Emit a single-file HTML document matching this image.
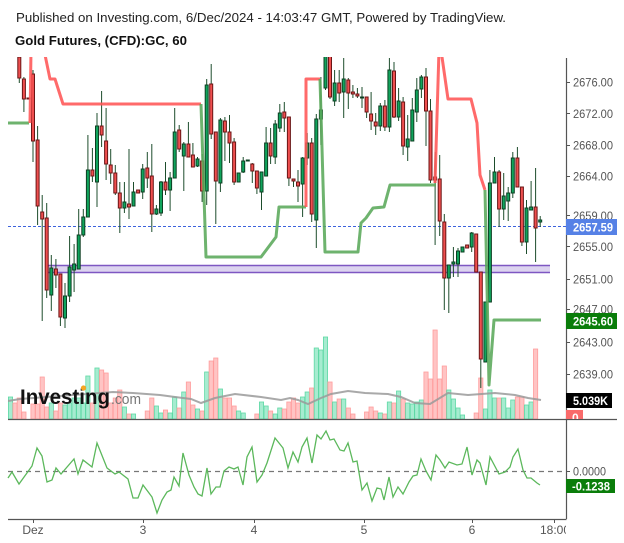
<!DOCTYPE html>
<html><head><meta charset="utf-8"><style>
html,body{margin:0;padding:0;background:#fff;}
svg{display:block;font-family:"Liberation Sans",Arial,sans-serif;}
.w{stroke:#1d4d2c;stroke-width:1}
.g{fill:#10a45c;stroke:#0d3f22;stroke-width:1}
.r{fill:#ef4f4f;stroke:#6a1515;stroke-width:1}
.vg{fill:#a6ecd0;stroke:#5fd9a5;stroke-width:.8}
.vr{fill:#ffc4c4;stroke:#ff9d9d;stroke-width:.8}
.ax{fill:#555;font-size:12px}
</style></head><body>
<svg width="624" height="543" viewBox="0 0 624 543" xmlns="http://www.w3.org/2000/svg">
<defs>
<clipPath id="pane"><rect x="8" y="57" width="558" height="362"/></clipPath>
<clipPath id="xax"><rect x="0" y="519" width="566" height="24"/></clipPath>
<clipPath id="zb"><rect x="566" y="410" width="17" height="9"/></clipPath>
</defs>
<text x="16" y="22" font-size="13" fill="#222" textLength="490" lengthAdjust="spacingAndGlyphs">Published on Investing.com, 6/Dec/2024 - 14:03:47 GMT, Powered by TradingView.</text>
<text x="15" y="45" font-size="13" font-weight="bold" fill="#111" textLength="172" lengthAdjust="spacingAndGlyphs">Gold Futures, (CFD):GC, 60</text>

<g clip-path="url(#pane)">
<!-- volume -->
<g>
<rect class="vg" x="8.4" y="397" width="4.2" height="22"/><rect class="vr" x="12.9" y="403" width="4.2" height="16"/>
<rect class="vr" x="17.2" y="398" width="4.2" height="21"/><rect class="vr" x="21.8" y="412" width="4.2" height="7"/>
<rect class="vr" x="30.9" y="404" width="4.2" height="15"/><rect class="vr" x="35.5" y="404" width="4.2" height="15"/>
<rect class="vr" x="40.1" y="377" width="4.2" height="42"/><rect class="vr" x="44.6" y="407" width="4.2" height="12"/>
<rect class="vg" x="49.2" y="403" width="4.2" height="16"/><rect class="vr" x="53.8" y="411" width="4.2" height="8"/>
<rect class="vr" x="58.3" y="403" width="4.2" height="16"/><rect class="vg" x="62.9" y="405" width="4.2" height="14"/>
<rect class="vg" x="67.5" y="403" width="4.2" height="16"/><rect class="vg" x="72.0" y="398" width="4.2" height="21"/>
<rect class="vg" x="76.6" y="398" width="4.2" height="21"/><rect class="vg" x="81.2" y="403" width="4.2" height="16"/>
<rect class="vg" x="85.8" y="376" width="4.2" height="43"/><rect class="vr" x="90.3" y="403" width="4.2" height="16"/>
<rect class="vg" x="94.9" y="368" width="4.2" height="51"/><rect class="vr" x="99.5" y="370" width="4.2" height="49"/>
<rect class="vr" x="104.0" y="373" width="4.2" height="46"/><rect class="vr" x="108.6" y="403" width="4.2" height="16"/>
<rect class="vr" x="113.2" y="398" width="4.2" height="21"/><rect class="vr" x="117.7" y="390" width="4.2" height="29"/>
<rect class="vg" x="122.3" y="407" width="4.2" height="12"/><rect class="vr" x="126.9" y="414" width="4.2" height="5"/>
<rect class="vg" x="131.4" y="414" width="4.2" height="5"/>
<rect class="vr" x="145.2" y="411" width="4.2" height="8"/><rect class="vr" x="149.7" y="398" width="4.2" height="21"/>
<rect class="vg" x="154.3" y="406" width="4.2" height="13"/><rect class="vg" x="158.9" y="413" width="4.2" height="6"/>
<rect class="vr" x="163.4" y="410" width="4.2" height="9"/><rect class="vg" x="168.0" y="413" width="4.2" height="6"/>
<rect class="vg" x="172.6" y="397" width="4.2" height="22"/><rect class="vr" x="177.1" y="408" width="4.2" height="11"/>
<rect class="vg" x="181.7" y="392" width="4.2" height="27"/><rect class="vr" x="186.3" y="382" width="4.2" height="37"/>
<rect class="vr" x="190.8" y="405" width="4.2" height="14"/><rect class="vg" x="195.4" y="409" width="4.2" height="10"/>
<rect class="vr" x="200.0" y="411" width="4.2" height="8"/><rect class="vg" x="204.6" y="372" width="4.2" height="47"/>
<rect class="vr" x="209.1" y="361" width="4.2" height="58"/><rect class="vr" x="213.7" y="358" width="4.2" height="61"/>
<rect class="vg" x="218.3" y="389" width="4.2" height="30"/><rect class="vr" x="222.8" y="398" width="4.2" height="21"/>
<rect class="vr" x="227.4" y="398" width="4.2" height="21"/><rect class="vr" x="232.0" y="406" width="4.2" height="13"/>
<rect class="vg" x="236.5" y="411" width="4.2" height="8"/><rect class="vg" x="241.1" y="413" width="4.2" height="6"/>
<rect class="vr" x="254.8" y="414" width="4.2" height="5"/><rect class="vg" x="259.4" y="402" width="4.2" height="17"/>
<rect class="vg" x="264.0" y="406" width="4.2" height="13"/><rect class="vr" x="268.5" y="411" width="4.2" height="8"/>
<rect class="vg" x="273.1" y="414" width="4.2" height="5"/><rect class="vg" x="277.7" y="408" width="4.2" height="11"/>
<rect class="vr" x="282.2" y="409" width="4.2" height="10"/><rect class="vr" x="286.8" y="402" width="4.2" height="17"/>
<rect class="vr" x="291.4" y="398" width="4.2" height="21"/><rect class="vr" x="295.9" y="403" width="4.2" height="16"/>
<rect class="vg" x="300.5" y="397" width="4.2" height="22"/><rect class="vg" x="305.1" y="392" width="4.2" height="27"/>
<rect class="vr" x="309.6" y="388" width="4.2" height="31"/><rect class="vg" x="314.2" y="348" width="4.2" height="71"/>
<rect class="vg" x="318.8" y="350" width="4.2" height="69"/><rect class="vg" x="323.4" y="337" width="4.2" height="82"/>
<rect class="vr" x="327.9" y="382" width="4.2" height="37"/><rect class="vg" x="332.5" y="402" width="4.2" height="17"/>
<rect class="vr" x="337.1" y="399" width="4.2" height="20"/><rect class="vg" x="341.6" y="399" width="4.2" height="20"/>
<rect class="vr" x="346.2" y="408" width="4.2" height="11"/><rect class="vr" x="350.8" y="414" width="4.2" height="5"/>
<rect class="vr" x="364.5" y="412" width="4.2" height="7"/><rect class="vr" x="369.0" y="407" width="4.2" height="12"/>
<rect class="vr" x="373.6" y="411" width="4.2" height="8"/><rect class="vg" x="378.2" y="413" width="4.2" height="6"/>
<rect class="vr" x="382.8" y="414" width="4.2" height="5"/><rect class="vg" x="387.3" y="402" width="4.2" height="17"/>
<rect class="vr" x="391.9" y="403" width="4.2" height="16"/><rect class="vg" x="396.5" y="391" width="4.2" height="28"/>
<rect class="vr" x="401.0" y="399" width="4.2" height="20"/><rect class="vg" x="405.6" y="403" width="4.2" height="16"/>
<rect class="vg" x="410.2" y="404" width="4.2" height="15"/><rect class="vg" x="414.7" y="402" width="4.2" height="17"/>
<rect class="vg" x="419.3" y="400" width="4.2" height="19"/><rect class="vr" x="423.9" y="372" width="4.2" height="47"/>
<rect class="vr" x="428.4" y="379" width="4.2" height="40"/><rect class="vr" x="433.0" y="330" width="4.2" height="89"/>
<rect class="vr" x="437.6" y="379" width="4.2" height="40"/><rect class="vr" x="442.2" y="366" width="4.2" height="53"/>
<rect class="vg" x="446.7" y="390" width="4.2" height="29"/><rect class="vg" x="451.3" y="399" width="4.2" height="20"/>
<rect class="vg" x="455.9" y="408" width="4.2" height="11"/><rect class="vg" x="460.4" y="415" width="4.2" height="4"/>
<rect class="vr" x="474.1" y="413" width="4.2" height="6"/><rect class="vr" x="478.7" y="378" width="4.2" height="41"/>
<rect class="vg" x="483.3" y="409" width="4.2" height="10"/><rect class="vg" x="487.8" y="390" width="4.2" height="29"/>
<rect class="vg" x="492.4" y="398" width="4.2" height="21"/><rect class="vr" x="497.0" y="398" width="4.2" height="21"/>
<rect class="vg" x="501.6" y="398" width="4.2" height="21"/><rect class="vg" x="506.1" y="408" width="4.2" height="11"/>
<rect class="vg" x="510.7" y="400" width="4.2" height="19"/><rect class="vr" x="515.3" y="397" width="4.2" height="22"/>
<rect class="vr" x="519.8" y="397" width="4.2" height="22"/><rect class="vg" x="524.4" y="405" width="4.2" height="14"/>
<rect class="vg" x="529.0" y="402" width="4.2" height="17"/><rect class="vr" x="533.5" y="349" width="4.2" height="70"/>
</g>
<polyline fill="none" stroke="#9a9a9a" stroke-width="2" stroke-opacity=".85" points="8,401 20,399 60,396 113,392 133,393 160,395 175,397 191,399 201,403 215,398 235,394 261,397 281,400 290,398 298,400 308,404 321,398 331,394 348,391 365,393 388,394 401,397 415,403 430,404 448,393 468,395 495,393 515,395 528,398 541,400"/>

<!-- purple band -->
<rect x="47" y="265.5" width="503" height="7" fill="#dcd3ef"/>
<line x1="47" y1="265.5" x2="550" y2="265.5" stroke="#7e57c2" stroke-width="1.5"/>
<line x1="47" y1="272.5" x2="550" y2="272.5" stroke="#7e57c2" stroke-width="1.5"/>
<!-- blue dashed -->
<line x1="8" y1="226.5" x2="566" y2="226.5" stroke="#3d63dd" stroke-width="1" stroke-dasharray="3,2"/>

<!-- candles -->
<g>
<line class="w" x1="19.3" y1="57" x2="19.3" y2="83"/><rect class="r" x="17.8" y="57" width="3" height="21"/>
<line class="w" x1="23.9" y1="77" x2="23.9" y2="112"/><rect class="r" x="22.4" y="79" width="3" height="20"/>
<line class="w" x1="28.4" y1="98" x2="28.4" y2="99"/><rect class="r" x="26.9" y="98" width="3" height="1"/>
<line class="w" x1="33.0" y1="70" x2="33.0" y2="162"/><rect class="r" x="31.5" y="74" width="3" height="67"/>
<line class="w" x1="37.6" y1="126" x2="37.6" y2="225"/><rect class="r" x="36.1" y="140" width="3" height="66"/>
<line class="w" x1="42.2" y1="195" x2="42.2" y2="321"/><rect class="r" x="40.7" y="212" width="3" height="7"/>
<line class="w" x1="46.7" y1="203" x2="46.7" y2="298"/><rect class="r" x="45.2" y="218" width="3" height="72"/>
<line class="w" x1="51.3" y1="255" x2="51.3" y2="311"/><rect class="g" x="49.8" y="268" width="3" height="27"/>
<line class="w" x1="55.9" y1="259" x2="55.9" y2="288"/><rect class="r" x="54.4" y="269" width="3" height="6"/>
<line class="w" x1="60.4" y1="274" x2="60.4" y2="326"/><rect class="r" x="58.9" y="274" width="3" height="43"/>
<line class="w" x1="65.0" y1="283" x2="65.0" y2="328"/><rect class="g" x="63.5" y="296" width="3" height="22"/>
<line class="w" x1="69.6" y1="236" x2="69.6" y2="302"/><rect class="g" x="68.1" y="267" width="3" height="29"/>
<line class="w" x1="74.1" y1="244" x2="74.1" y2="292"/><rect class="g" x="72.6" y="264" width="3" height="6"/>
<line class="w" x1="78.7" y1="209" x2="78.7" y2="269"/><rect class="g" x="77.2" y="235" width="3" height="34"/>
<line class="w" x1="83.3" y1="209" x2="83.3" y2="237"/><rect class="g" x="81.8" y="217" width="3" height="18"/>
<line class="w" x1="87.9" y1="135" x2="87.9" y2="217"/><rect class="g" x="86.4" y="170" width="3" height="47"/>
<line class="w" x1="92.4" y1="148" x2="92.4" y2="182"/><rect class="r" x="90.9" y="170" width="3" height="6"/>
<line class="w" x1="97.0" y1="113" x2="97.0" y2="207"/><rect class="g" x="95.5" y="126" width="3" height="56"/>
<line class="w" x1="101.6" y1="91" x2="101.6" y2="147"/><rect class="r" x="100.1" y="126" width="3" height="9"/>
<line class="w" x1="106.1" y1="108" x2="106.1" y2="180"/><rect class="r" x="104.6" y="141" width="3" height="23"/>
<line class="w" x1="110.7" y1="149" x2="110.7" y2="184"/><rect class="r" x="109.2" y="165" width="3" height="8"/>
<line class="w" x1="115.3" y1="165" x2="115.3" y2="195"/><rect class="r" x="113.8" y="173" width="3" height="20"/>
<line class="w" x1="119.8" y1="182" x2="119.8" y2="233"/><rect class="r" x="118.3" y="193" width="3" height="15"/>
<line class="w" x1="124.4" y1="182" x2="124.4" y2="213"/><rect class="g" x="122.9" y="202" width="3" height="6"/>
<line class="w" x1="129.0" y1="149" x2="129.0" y2="219"/><rect class="r" x="127.5" y="204" width="3" height="3"/>
<line class="w" x1="133.5" y1="182" x2="133.5" y2="206"/><rect class="g" x="132.0" y="192" width="3" height="14"/>
<line class="w" x1="138.1" y1="190" x2="138.1" y2="193"/><rect class="r" x="136.6" y="190" width="3" height="3"/>
<line class="w" x1="142.7" y1="164" x2="142.7" y2="199"/><rect class="g" x="141.2" y="169" width="3" height="23"/>
<line class="w" x1="147.3" y1="152" x2="147.3" y2="188"/><rect class="r" x="145.8" y="168" width="3" height="10"/>
<line class="w" x1="151.8" y1="144" x2="151.8" y2="232"/><rect class="r" x="150.3" y="176" width="3" height="38"/>
<line class="w" x1="156.4" y1="205" x2="156.4" y2="215"/><rect class="g" x="154.9" y="209" width="3" height="5"/>
<line class="w" x1="161.0" y1="181" x2="161.0" y2="216"/><rect class="g" x="159.5" y="182" width="3" height="31"/>
<line class="w" x1="165.5" y1="162" x2="165.5" y2="195"/><rect class="r" x="164.0" y="182" width="3" height="8"/>
<line class="w" x1="170.1" y1="172" x2="170.1" y2="211"/><rect class="g" x="168.6" y="178" width="3" height="12"/>
<line class="w" x1="174.7" y1="108" x2="174.7" y2="178"/><rect class="g" x="173.2" y="132" width="3" height="46"/>
<line class="w" x1="179.2" y1="125" x2="179.2" y2="152"/><rect class="r" x="177.7" y="130" width="3" height="19"/>
<line class="w" x1="183.8" y1="142" x2="183.8" y2="191"/><rect class="g" x="182.3" y="144" width="3" height="12"/>
<line class="w" x1="188.4" y1="122" x2="188.4" y2="157"/><rect class="r" x="186.9" y="144" width="3" height="13"/>
<line class="w" x1="192.9" y1="143" x2="192.9" y2="167"/><rect class="r" x="191.4" y="155" width="3" height="12"/>
<line class="w" x1="197.5" y1="157" x2="197.5" y2="167"/><rect class="g" x="196.0" y="159" width="3" height="7"/>
<line class="w" x1="202.1" y1="154" x2="202.1" y2="202"/><rect class="r" x="200.6" y="161" width="3" height="30"/>
<line class="w" x1="206.7" y1="79" x2="206.7" y2="205"/><rect class="g" x="205.2" y="85" width="3" height="106"/>
<line class="w" x1="211.2" y1="64" x2="211.2" y2="139"/><rect class="r" x="209.7" y="84" width="3" height="50"/>
<line class="w" x1="215.8" y1="132" x2="215.8" y2="224"/><rect class="r" x="214.3" y="132" width="3" height="49"/>
<line class="w" x1="220.4" y1="118" x2="220.4" y2="192"/><rect class="g" x="218.9" y="120" width="3" height="63"/>
<line class="w" x1="224.9" y1="117" x2="224.9" y2="161"/><rect class="r" x="223.4" y="121" width="3" height="11"/>
<line class="w" x1="229.5" y1="115" x2="229.5" y2="163"/><rect class="r" x="228.0" y="132" width="3" height="11"/>
<line class="w" x1="234.1" y1="138" x2="234.1" y2="185"/><rect class="r" x="232.6" y="142" width="3" height="40"/>
<line class="w" x1="238.6" y1="173" x2="238.6" y2="182"/><rect class="g" x="237.1" y="173" width="3" height="9"/>
<line class="w" x1="243.2" y1="157" x2="243.2" y2="173"/><rect class="g" x="241.7" y="161" width="3" height="11"/>
<line class="w" x1="247.8" y1="160" x2="247.8" y2="161"/><rect class="g" x="246.3" y="160" width="3" height="1"/>
<line class="w" x1="252.3" y1="163" x2="252.3" y2="183"/><rect class="r" x="250.8" y="164" width="3" height="7"/>
<line class="w" x1="256.9" y1="171" x2="256.9" y2="194"/><rect class="r" x="255.4" y="171" width="3" height="17"/>
<line class="w" x1="261.5" y1="172" x2="261.5" y2="210"/><rect class="g" x="260.0" y="172" width="3" height="20"/>
<line class="w" x1="266.1" y1="127" x2="266.1" y2="176"/><rect class="g" x="264.6" y="143" width="3" height="33"/>
<line class="w" x1="270.6" y1="128" x2="270.6" y2="164"/><rect class="r" x="269.1" y="143" width="3" height="13"/>
<line class="w" x1="275.2" y1="120" x2="275.2" y2="164"/><rect class="g" x="273.7" y="124" width="3" height="33"/>
<line class="w" x1="279.8" y1="104" x2="279.8" y2="132"/><rect class="g" x="278.3" y="113" width="3" height="15"/>
<line class="w" x1="284.3" y1="102" x2="284.3" y2="132"/><rect class="r" x="282.8" y="112" width="3" height="6"/>
<line class="w" x1="288.9" y1="117" x2="288.9" y2="186"/><rect class="r" x="287.4" y="117" width="3" height="61"/>
<line class="w" x1="293.5" y1="179" x2="293.5" y2="187"/><rect class="r" x="292.0" y="179" width="3" height="2"/>
<line class="w" x1="298.0" y1="170" x2="298.0" y2="202"/><rect class="r" x="296.5" y="182" width="3" height="4"/>
<line class="w" x1="302.6" y1="157" x2="302.6" y2="217"/><rect class="g" x="301.1" y="158" width="3" height="26"/>
<line class="w" x1="307.2" y1="133" x2="307.2" y2="165"/><rect class="g" x="305.7" y="143" width="3" height="15"/>
<line class="w" x1="311.7" y1="138" x2="311.7" y2="222"/><rect class="r" x="310.2" y="143" width="3" height="71"/>
<line class="w" x1="316.3" y1="114" x2="316.3" y2="248"/><rect class="g" x="314.8" y="119" width="3" height="101"/>
<line class="w" x1="320.9" y1="77" x2="320.9" y2="145"/><rect class="g" x="319.4" y="110" width="3" height="9"/>
<line class="w" x1="325.5" y1="57" x2="325.5" y2="90"/><rect class="g" x="324.0" y="55" width="3" height="33"/>
<line class="w" x1="330.0" y1="57" x2="330.0" y2="99"/><rect class="r" x="328.5" y="55" width="3" height="42"/>
<line class="w" x1="334.6" y1="70" x2="334.6" y2="106"/><rect class="g" x="333.1" y="83" width="3" height="18"/>
<line class="w" x1="339.2" y1="70" x2="339.2" y2="102"/><rect class="r" x="337.7" y="83" width="3" height="10"/>
<line class="w" x1="343.7" y1="58" x2="343.7" y2="118"/><rect class="g" x="342.2" y="79" width="3" height="13"/>
<line class="w" x1="348.3" y1="78" x2="348.3" y2="109"/><rect class="r" x="346.8" y="80" width="3" height="13"/>
<line class="w" x1="352.9" y1="85" x2="352.9" y2="98"/><rect class="r" x="351.4" y="92" width="3" height="2"/>
<line class="w" x1="357.4" y1="88" x2="357.4" y2="98"/><rect class="r" x="355.9" y="94" width="3" height="2"/>
<line class="w" x1="362.0" y1="87" x2="362.0" y2="108"/><rect class="g" x="360.5" y="97" width="3" height="1"/>
<line class="w" x1="366.6" y1="97" x2="366.6" y2="118"/><rect class="r" x="365.1" y="97" width="3" height="15"/>
<line class="w" x1="371.1" y1="92" x2="371.1" y2="130"/><rect class="r" x="369.6" y="114" width="3" height="7"/>
<line class="w" x1="375.7" y1="113" x2="375.7" y2="135"/><rect class="r" x="374.2" y="122" width="3" height="4"/>
<line class="w" x1="380.3" y1="103" x2="380.3" y2="131"/><rect class="g" x="378.8" y="106" width="3" height="20"/>
<line class="w" x1="384.9" y1="100" x2="384.9" y2="131"/><rect class="r" x="383.4" y="106" width="3" height="21"/>
<line class="w" x1="389.4" y1="58" x2="389.4" y2="132"/><rect class="g" x="387.9" y="70" width="3" height="57"/>
<line class="w" x1="394.0" y1="62" x2="394.0" y2="118"/><rect class="r" x="392.5" y="71" width="3" height="46"/>
<line class="w" x1="398.6" y1="88" x2="398.6" y2="121"/><rect class="g" x="397.1" y="101" width="3" height="16"/>
<line class="w" x1="403.1" y1="97" x2="403.1" y2="155"/><rect class="r" x="401.6" y="102" width="3" height="44"/>
<line class="w" x1="407.7" y1="115" x2="407.7" y2="161"/><rect class="g" x="406.2" y="139" width="3" height="8"/>
<line class="w" x1="412.3" y1="98" x2="412.3" y2="141"/><rect class="g" x="410.8" y="110" width="3" height="31"/>
<line class="w" x1="416.8" y1="78" x2="416.8" y2="122"/><rect class="g" x="415.3" y="90" width="3" height="22"/>
<line class="w" x1="421.4" y1="75" x2="421.4" y2="98"/><rect class="g" x="419.9" y="77" width="3" height="12"/>
<line class="w" x1="426.0" y1="68" x2="426.0" y2="146"/><rect class="r" x="424.5" y="77" width="3" height="34"/>
<line class="w" x1="430.5" y1="99" x2="430.5" y2="183"/><rect class="r" x="429.0" y="111" width="3" height="69"/>
<line class="w" x1="435.1" y1="152" x2="435.1" y2="245"/><rect class="r" x="433.6" y="177" width="3" height="3"/>
<line class="w" x1="439.7" y1="155" x2="439.7" y2="236"/><rect class="r" x="438.2" y="179" width="3" height="42"/>
<line class="w" x1="444.3" y1="214" x2="444.3" y2="310"/><rect class="r" x="442.8" y="222" width="3" height="56"/>
<line class="w" x1="448.8" y1="265" x2="448.8" y2="313"/><rect class="g" x="447.3" y="265" width="3" height="13"/>
<line class="w" x1="453.4" y1="247" x2="453.4" y2="277"/><rect class="g" x="451.9" y="262" width="3" height="2"/>
<line class="w" x1="458.0" y1="248" x2="458.0" y2="277"/><rect class="g" x="456.5" y="251" width="3" height="13"/>
<line class="w" x1="462.5" y1="247" x2="462.5" y2="252"/><rect class="g" x="461.0" y="247" width="3" height="5"/>
<line class="w" x1="467.1" y1="245" x2="467.1" y2="248"/><rect class="r" x="465.6" y="245" width="3" height="3"/>
<line class="w" x1="471.7" y1="232" x2="471.7" y2="252"/><rect class="g" x="470.2" y="233" width="3" height="14"/>
<line class="w" x1="476.2" y1="234" x2="476.2" y2="272"/><rect class="r" x="474.7" y="234" width="3" height="38"/>
<line class="w" x1="480.8" y1="272" x2="480.8" y2="388"/><rect class="r" x="479.3" y="272" width="3" height="87"/>
<line class="w" x1="485.4" y1="302" x2="485.4" y2="362"/><rect class="g" x="483.9" y="302" width="3" height="60"/>
<line class="w" x1="489.9" y1="170" x2="489.9" y2="302"/><rect class="g" x="488.4" y="183" width="3" height="119"/>
<line class="w" x1="494.5" y1="157" x2="494.5" y2="183"/><rect class="g" x="493.0" y="172" width="3" height="11"/>
<line class="w" x1="499.1" y1="170" x2="499.1" y2="227"/><rect class="r" x="497.6" y="172" width="3" height="37"/>
<line class="w" x1="503.7" y1="173" x2="503.7" y2="220"/><rect class="g" x="502.2" y="196" width="3" height="13"/>
<line class="w" x1="508.2" y1="187" x2="508.2" y2="221"/><rect class="g" x="506.7" y="193" width="3" height="8"/>
<line class="w" x1="512.8" y1="152" x2="512.8" y2="198"/><rect class="g" x="511.3" y="158" width="3" height="35"/>
<line class="w" x1="517.4" y1="147" x2="517.4" y2="187"/><rect class="r" x="515.9" y="158" width="3" height="29"/>
<line class="w" x1="521.9" y1="187" x2="521.9" y2="246"/><rect class="r" x="520.4" y="187" width="3" height="55"/>
<line class="w" x1="526.5" y1="200" x2="526.5" y2="254"/><rect class="g" x="525.0" y="208" width="3" height="34"/>
<line class="w" x1="531.1" y1="181" x2="531.1" y2="210"/><rect class="g" x="529.6" y="207" width="3" height="3"/>
<line class="w" x1="535.6" y1="168" x2="535.6" y2="262"/><rect class="r" x="534.1" y="207" width="3" height="21"/>
<line class="w" x1="540.2" y1="216" x2="540.2" y2="227"/><rect class="g" x="538.7" y="220" width="3" height="2"/>
</g>

<!-- red/green stop lines -->
<g fill="none" stroke-width="3" stroke-linejoin="round" stroke-opacity=".88">
<polyline stroke="#5aa95a" points="8,123 29,123"/>
<polyline stroke="#ff5555" points="30,123 31,50"/>
<polyline stroke="#ff5555" points="44,50 50,79 55,79 63,104 201,104"/>
<polyline stroke="#5aa95a" points="201,104 206,257 261,257 276,237 279,207 306,207"/>
<polyline stroke="#ff5555" points="306,207 306,79 320,79"/>
<polyline stroke="#5aa95a" points="320,79 325,252 358,252 361,223 366,218 373,208 384,207 390,185 436,185"/>
<polyline stroke="#ff5555" points="435,183 439,50"/>
<polyline stroke="#ff5555" points="441,50 448,99 471,99 477,123 480,175 485,190"/>
<polyline stroke="#5aa95a" points="485,190 489,385 494,320 541,320"/>
</g>

<!-- logo -->
<text x="20" y="404" font-size="21" font-weight="bold" fill="#111" textLength="90" lengthAdjust="spacingAndGlyphs">Investing</text>
<text x="111" y="404" font-size="15" fill="#777" textLength="30" lengthAdjust="spacingAndGlyphs">.com</text>
<circle cx="83.5" cy="388" r="2.6" fill="#f5a623"/>
</g>

<!-- axes lines -->
<line x1="566.5" y1="58" x2="566.5" y2="519" stroke="#555" stroke-width="1.2"/>
<line x1="8" y1="419.5" x2="617" y2="419.5" stroke="#555" stroke-width="1.2"/>
<line x1="8" y1="519.5" x2="566.5" y2="519.5" stroke="#555" stroke-width="1.2"/>

<!-- price ticks + labels -->
<g stroke="#555" stroke-width="1">
<line x1="566" y1="82.5" x2="570" y2="82.5"/><line x1="566" y1="113.5" x2="570" y2="113.5"/>
<line x1="566" y1="145.5" x2="570" y2="145.5"/><line x1="566" y1="176.5" x2="570" y2="176.5"/>
<line x1="566" y1="215.5" x2="570" y2="215.5"/><line x1="566" y1="246.5" x2="570" y2="246.5"/>
<line x1="566" y1="279.5" x2="570" y2="279.5"/><line x1="566" y1="309.5" x2="570" y2="309.5"/>
<line x1="566" y1="342.5" x2="570" y2="342.5"/><line x1="566" y1="374.5" x2="570" y2="374.5"/>
<line x1="566" y1="471.5" x2="570" y2="471.5"/>
</g>
<g class="ax">
<text x="573" y="86.5" textLength="40" lengthAdjust="spacingAndGlyphs">2676.00</text>
<text x="573" y="118" textLength="40" lengthAdjust="spacingAndGlyphs">2672.00</text>
<text x="573" y="149.5" textLength="40" lengthAdjust="spacingAndGlyphs">2668.00</text>
<text x="573" y="180.5" textLength="40" lengthAdjust="spacingAndGlyphs">2664.00</text>
<text x="573" y="220" textLength="40" lengthAdjust="spacingAndGlyphs">2659.00</text>
<text x="573" y="251" textLength="40" lengthAdjust="spacingAndGlyphs">2655.00</text>
<text x="573" y="283.5" textLength="40" lengthAdjust="spacingAndGlyphs">2651.00</text>
<text x="573" y="313.5" textLength="40" lengthAdjust="spacingAndGlyphs">2647.00</text>
<text x="573" y="346.5" textLength="40" lengthAdjust="spacingAndGlyphs">2643.00</text>
<text x="573" y="378.5" textLength="40" lengthAdjust="spacingAndGlyphs">2639.00</text>
<text x="573" y="475.5" textLength="33" lengthAdjust="spacingAndGlyphs">0.0000</text>
</g>

<!-- value boxes -->
<rect x="566" y="219" width="51" height="16" fill="#5681e6"/>
<text x="573" y="231.5" font-size="12" font-weight="bold" fill="#fff" textLength="40" lengthAdjust="spacingAndGlyphs">2657.59</text>
<rect x="566" y="313" width="51" height="16" fill="#0a7d0a"/>
<text x="573" y="325.5" font-size="12" font-weight="bold" fill="#fff" textLength="40" lengthAdjust="spacingAndGlyphs">2645.60</text>
<rect x="566" y="393" width="46" height="15" fill="#000"/>
<text x="573" y="405" font-size="12" font-weight="bold" fill="#fff" textLength="35" lengthAdjust="spacingAndGlyphs">5.039K</text>
<rect x="566" y="410" width="17" height="9" fill="#f96a6a"/>
<text x="572" y="422" font-size="12" font-weight="bold" fill="#fff" clip-path="url(#zb)">0</text>
<rect x="566" y="479" width="49" height="14" fill="#0a7d0a"/>
<text x="572" y="490.5" font-size="12" font-weight="bold" fill="#fff" textLength="38" lengthAdjust="spacingAndGlyphs">-0.1238</text>

<!-- oscillator -->
<line x1="8" y1="471.5" x2="566" y2="471.5" stroke="#777" stroke-width="1.3" stroke-dasharray="5,4"/>
<polyline fill="none" stroke="#5cb85c" stroke-width="1.3" points="8,478 12,472 19,484 32,466 37,448 42,456 47,482 52,480 56,468 61,474 74,459 78,474 83,460 92,467 97,443 107,468 115,474 119,472 128,479 133,498 138,498 143,485 152,497 157,513 162,500 167,492 171,490 174,477 179,486 183,453 189,475 194,487 198,494 202,496 207,468 211,494 216,487 220,487 224,471 229,467 234,469 238,467 243,485 247,457 252,447 257,482 262,475 267,463 275,438 283,448 288,468 293,452 298,462 302,447 307,438 312,463 317,435 321,439 326,431 330,440 334,439 340,450 344,451 348,443 353,462 357,461 362,490 367,483 372,501 377,488 381,489 384,500 389,477 393,497 398,487 403,494 409,482 413,476 417,475 421,459 426,471 431,480 436,455 440,460 445,468 449,462 457,465 462,464 467,447 472,475 477,460 480,463 486,485 490,457 499,474 505,472 510,467 513,457 518,449 523,470 527,478 531,478 537,483 540,485"/>

<!-- x axis -->
<g stroke="#555" stroke-width="1">
<line x1="33.5" y1="519" x2="33.5" y2="523"/><line x1="143.5" y1="519" x2="143.5" y2="523"/>
<line x1="254.5" y1="519" x2="254.5" y2="523"/><line x1="364.5" y1="519" x2="364.5" y2="523"/>
<line x1="472.5" y1="519" x2="472.5" y2="523"/><line x1="554.5" y1="519" x2="554.5" y2="523"/>
</g>
<g class="ax" text-anchor="middle" clip-path="url(#xax)">
<text x="33" y="534">Dez</text>
<text x="143" y="534">3</text>
<text x="254" y="534">4</text>
<text x="364" y="534">5</text>
<text x="472" y="534">6</text>
<text x="555" y="534">18:00</text>
</g>
</svg>
</body></html>
